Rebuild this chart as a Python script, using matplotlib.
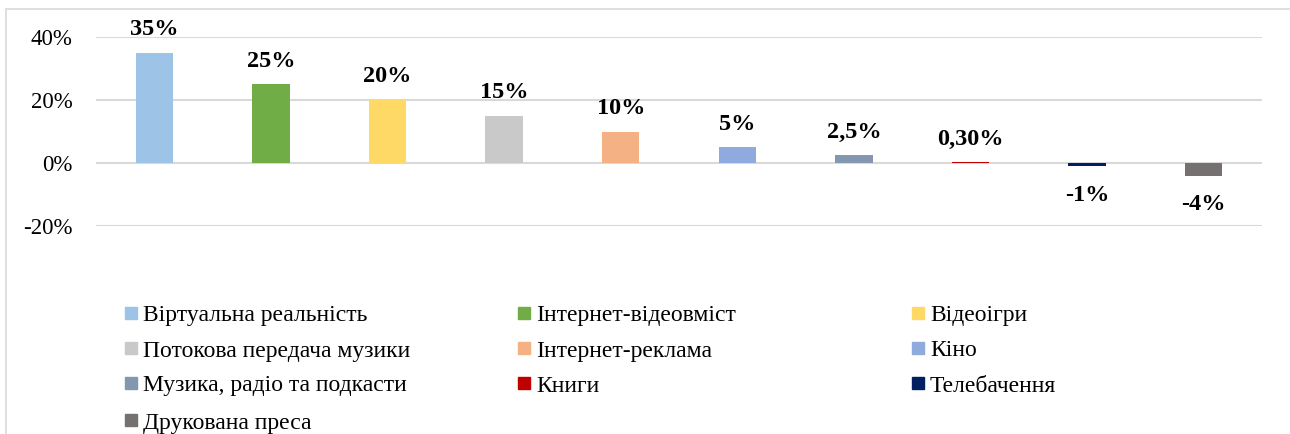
import matplotlib
matplotlib.use('agg')
import matplotlib.pyplot as plt
from matplotlib.patches import Rectangle
from matplotlib.ticker import FuncFormatter

plt.rcParams['font.family'] = ['Liberation Serif', 'DejaVu Serif']

# segments and forecast growth
categories = ['Віртуальна реальність', 'Інтернет-відеовміст', 'Відеоігри',
              'Потокова передача музики', 'Інтернет-реклама', 'Кіно',
              'Музика, радіо та подкасти', 'Книги', 'Телебачення',
              'Друкована преса']
values = [0.35, 0.25, 0.20, 0.15, 0.10, 0.05, 0.025, 0.003, -0.01, -0.04]
value_labels = ['35%', '25%', '20%', '15%', '10%', '5%', '2,5%', '0,30%', '-1%', '-4%']
colors = ['#9DC3E6', '#70AD47', '#FFD966', '#C9C9C9', '#F4B183', '#8FAADC',
          '#8497B0', '#C00000', '#002060', '#767171']
y_ticks = [-0.2, 0, 0.2, 0.4]

W, H = 1290, 434
fig = plt.figure(figsize=(W / 100, H / 100), dpi=100)

# outer chart frame
fig.patches.append(Rectangle((6 / W, -0.1), 1.2, 1 - 8.5 / H + 0.1,
                             transform=fig.transFigure, fill=False,
                             edgecolor='#D9D9D9', linewidth=1.2))

ax = fig.add_axes([96 / W, 1 - 226 / H, (1262 - 96) / W, (226 - 37) / H])
x = list(range(len(values)))
ax.bar(x, values, width=0.32, color=colors, zorder=3)
ax.set_xlim(-0.5, len(values) - 0.5)
ax.set_ylim(-0.2, 0.4)
ax.set_yticks(y_ticks)
ax.yaxis.set_major_formatter(FuncFormatter(lambda v, p: f'{v * 100:.0f}%'))
ax.tick_params(axis='y', length=0, labelsize=16.5, pad=17)
ax.set_xticks([])
ax.grid(axis='y', color='#D9D9D9', linewidth=1.5, zorder=0)
for s in ax.spines.values():
    s.set_visible(False)

for xi, v, lab in zip(x, values, value_labels):
    if v >= 0:
        ax.annotate(lab, (xi, v), xytext=(0, 9), textcoords='offset points',
                    ha='center', va='bottom', fontsize=17.5, fontweight='bold')
    else:
        ax.annotate(lab, (xi, v), xytext=(0, -13.5), textcoords='offset points',
                    ha='center', va='top', fontsize=17.5, fontweight='bold')

# legend laid out row by row, three columns
col_x = [125, 518, 912]
row_y = [313, 348, 383, 420]
for i, (name, c) in enumerate(zip(categories, colors)):
    cx = col_x[i % 3]
    cy = row_y[i // 3]
    fig.patches.append(Rectangle((cx / W, 1 - (cy + 6) / H), 12 / W, 12 / H,
                                 transform=fig.transFigure, color=c))
    fig.text((cx + 18) / W, 1 - (cy + 8.5) / H, name, fontsize=17,
             va='baseline', ha='left')

fig.savefig('out.png', dpi=100)
